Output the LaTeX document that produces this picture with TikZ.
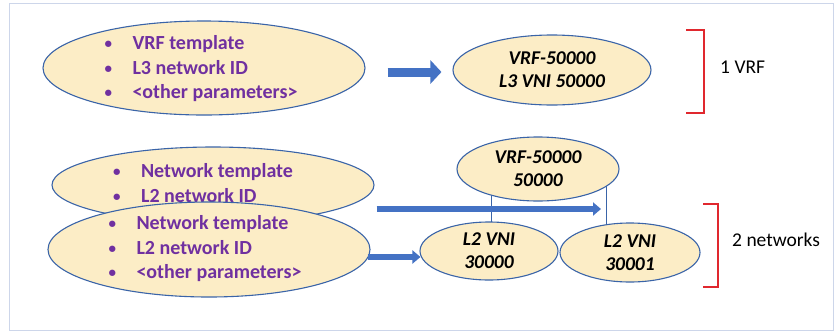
\documentclass[tikz,border=0pt]{standalone}
\usepackage{fontspec}
\setmainfont{Carlito}
\usetikzlibrary{shapes.geometric,arrows.meta,backgrounds}
\definecolor{ellfill}{HTML}{FCEDC6}
\definecolor{elldraw}{HTML}{3A64A8}
\definecolor{purp}{HTML}{7030A0}
\definecolor{arrfill}{HTML}{4472C4}
\definecolor{brk}{HTML}{E0282E}
\definecolor{frame}{HTML}{CDD6EA}
\tikzset{
  ell/.style={ellipse, draw=elldraw, fill=ellfill, line width=1.1pt, inner sep=0pt},
  bul/.style={align=left, text=purp, font=\fontsize{20}{24.5}\selectfont\bfseries, inner sep=0pt},
  val/.style={align=center, text=black, font=\fontsize{19.5}{23}\selectfont\bfseries\itshape, inner sep=0pt},
  lab/.style={anchor=west, text=black, font=\fontsize{19.5}{23}\selectfont, inner sep=0pt},
  bigarrow/.style={draw=arrfill, line width=9pt, -{Triangle[width=23pt,length=11pt]}},
  smallarrow/.style={draw=arrfill, line width=5.5pt, -{Triangle[width=13pt,length=8pt]}},
  link/.style={draw=elldraw, line width=0.9pt},
  bracket/.style={draw=brk, line width=1.4pt},
}
\newcommand{\bl}[1]{\makebox[28pt][l]{\raisebox{1pt}{\fontsize{15}{15}\selectfont•}}#1}
\begin{document}
\begin{tikzpicture}[x=1pt,y=-1pt]
\useasboundingbox (0,0) rectangle (838,333);
% ellipses
\node[ell, minimum width=322pt, minimum height=94pt] (e1) at (204,68) {};
\node[bul] (t1) at (201,69) {\bl{VRF template}\\\bl{L3 network ID}\\\bl{<other parameters>}};
\node[ell, minimum width=198pt, minimum height=70pt] (e2) at (552,70) {};
\node[val] (t2) at (e2.center) {VRF-50000\\L3 VNI 50000};
\node[ell, minimum width=322pt, minimum height=76pt] (e3) at (213,185) {};
\node[bul] (t3) at (203,183) {\bl{Network template}\\\bl{L2 network ID}};
\node[ell, minimum width=322pt, minimum height=95pt] (e4) at (209,249.5) {};
\node[bul] (t4) at (205,249) {\bl{Network template}\\\bl{L2 network ID}\\\bl{<other parameters>}};
\node[ell, minimum width=162pt, minimum height=64pt] (e5) at (538,169) {};
\node[val] (t5) at (e5.center) {VRF-50000\\50000};
\node[ell, minimum width=138pt, minimum height=58pt] (e6) at (489,251) {};
\node[val] (t6) at (e6.center) {L2 VNI\\30000};
\node[ell, minimum width=140pt, minimum height=59pt] (e7) at (630,252.5) {};
\node[val] (t7) at (e7.center) {L2 VNI\\30001};
% labels
\node[lab] (l1) at (720,67) {1 VRF};
\node[lab] (l2) at (732,240) {2 networks};
% background: frame and links
\begin{scope}[on background layer]
\draw[draw=frame, line width=1pt, fill=white] (9,3) rectangle (833,330);
\draw[link] ([xshift=2pt]e6.center) -- ([xshift=2pt]e6.center |- e5.center);
\draw[link] ([xshift=68pt]e5.center) -- ([xshift=68pt]e5.center |- e7.center);
\end{scope}
% arrows
\coordinate (a2end) at (601,209);
\draw[bigarrow] ([xshift=22pt,yshift=-4pt]e1.east) -- ([xshift=-11pt,yshift=-2pt]e2.west);
\draw[smallarrow] ([xshift=2pt,yshift=-24pt]e3.east) -- (a2end);
\draw[smallarrow] ([xshift=-3pt,yshift=-7.5pt]e4.east) -- ([xshift=1pt,yshift=-6pt]e6.west);
% brackets
\draw[bracket] (686,30) -- (704,30) -- (704,113) -- (686,113);
\draw[bracket] (703,204) -- (718,204) -- (718,287) -- (703,287);
\end{tikzpicture}
\end{document}
